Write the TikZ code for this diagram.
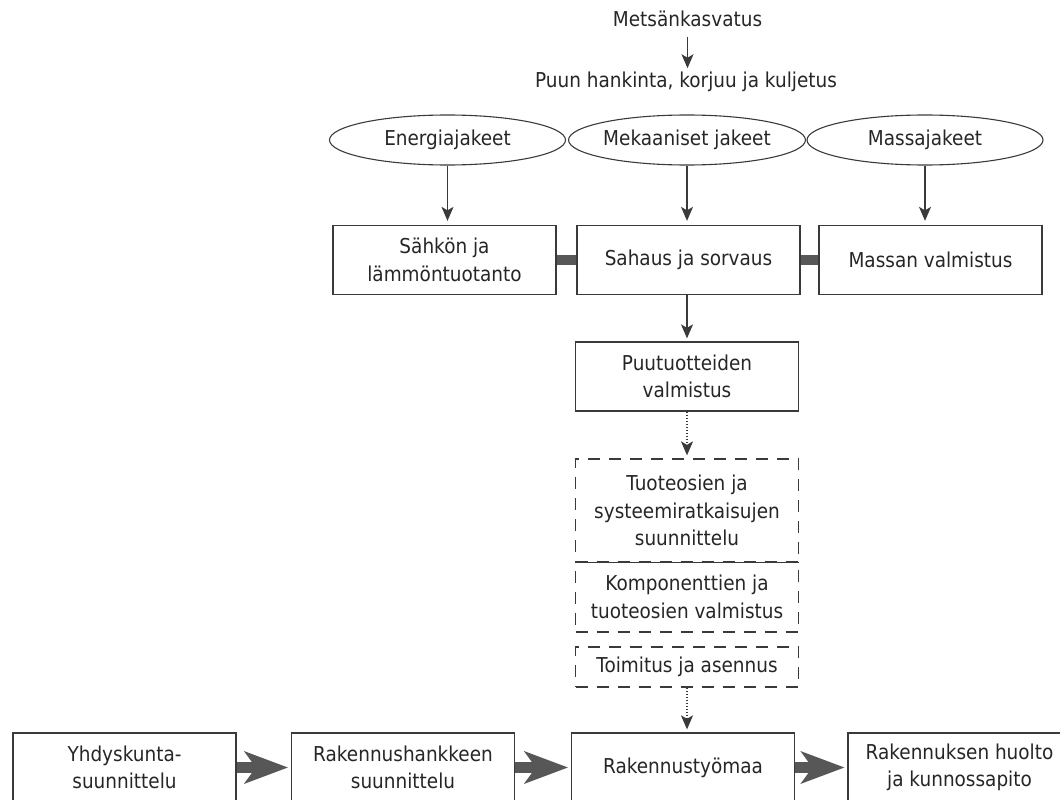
\documentclass[tikz,border=0pt]{standalone}
\usepackage{fontspec}
\setmainfont[FakeStretch=0.9]{DejaVu Sans}
\usetikzlibrary{shapes.geometric,arrows.meta}
\definecolor{ink}{HTML}{262626}
\definecolor{edge}{HTML}{3A3A3A}
\definecolor{barfill}{HTML}{575757}
\begin{document}
\begin{tikzpicture}[x=1pt,y=-1pt,
  every node/.style={font=\fontsize{20.5}{27.5}\selectfont, text=ink},
  label/.style={inner sep=0pt, anchor=base},
  oval/.style={draw=edge, line width=1.1pt, ellipse, minimum width=236pt,
    minimum height=50pt, inner sep=0pt},
  box/.style={draw=edge, line width=1.3pt, rectangle, minimum width=223pt,
    minimum height=69pt, align=center, inner sep=0pt},
  dbox/.style={box, dash pattern=on 12pt off 9pt},
  flow/.style={draw=edge, line width=1.2pt,
    -{Stealth[length=14pt,width=12pt,inset=3.5pt]}},
  dflow/.style={flow, dash pattern=on 1.3pt off 1.7pt},
  link/.style={draw=barfill, line width=10pt},
  bigflow/.style={draw=barfill, line width=11pt,
    -{Stealth[length=44pt,width=33pt,inset=12pt,line width=0pt]}, shorten >=3pt}
]
\useasboundingbox (0,0) rectangle (1060,800);
\clip (0,0) rectangle (1060,800);

% wood supply chain at the top
\node[label] (forest) at (687.5,27) {Metsänkasvatus};
\node[label] (harvest) at (686,88) {Puun hankinta, korjuu ja kuljetus};
\draw[flow, shorten <=10pt, shorten >=4pt] (forest.south) -- (forest.south |- harvest.north);

% wood fractions
\node[oval] (energy) at (447.5,140) {Energiajakeet};
\node[oval] (mech) at (687,140) {Mekaaniset jakeet};
\node[oval] (mass) at (925,140) {Massajakeet};

% processing
\node[box] (power) at (444.5,260) {Sähkön ja\\lämmöntuotanto};
\node[box] (saw) at (688.5,260) {Sahaus ja sorvaus};
\node[box] (pulp) at (930.5,260) {Massan valmistus};

\draw[flow, shorten >=4pt] (energy.south) -- (energy.south |- power.north);
\draw[flow, shorten >=4pt] (mech.south) -- (mech.south |- saw.north);
\draw[flow, shorten >=4pt] (mass.south) -- (mass.south |- pulp.north);

\draw[link] (power.east) -- (saw.west);
\draw[link] (saw.east) -- (pulp.west);

% wood products and building systems
\node[box] (products) at (687,376.5) {Puutuotteiden\\valmistus};
\draw[flow, shorten >=3pt] (products.north |- saw.south) -- (products.north);

\node[dbox, minimum height=103pt] (design) at (687,510.5)
  {Tuoteosien ja\\systeemiratkaisujen\\suunnittelu};
\node[dbox, minimum height=70pt] (manuf) at (687,597)
  {Komponenttien ja\\tuoteosien valmistus};
\draw[edge, line width=1.3pt] (design.south west) -- (design.south east);
\node[dbox, minimum height=40pt] (deliver) at (687,667) {Toimitus ja asennus};

\draw[dflow, shorten >=3pt] (products.south) -- (design.north);

% building process
\node[box] (urban) at (124.5,767.5) {Yhdyskunta-\\suunnittelu};
\node[box] (project) at (403,767.5) {Rakennushankkeen\\suunnittelu};
\node[box] (site) at (683,767.5) {Rakennustyömaa};
\node[box] (maint) at (959.5,767.5) {Rakennuksen huolto\\ja kunnossapito};

\draw[dflow, shorten >=3pt] (deliver.south) -- (deliver.south |- site.north);

\draw[bigflow] (urban.east) -- (project.west);
\draw[bigflow] (project.east) -- (site.west);
\draw[bigflow] (site.east) -- (maint.west);
\end{tikzpicture}
\end{document}
